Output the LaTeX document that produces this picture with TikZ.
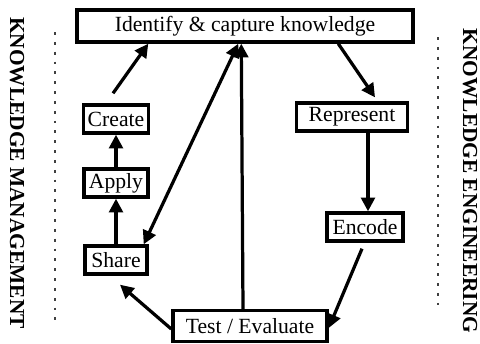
\documentclass[tikz,border=0pt]{standalone}
\usepackage{fontspec}
\setmainfont{Liberation Serif}
\usetikzlibrary{arrows.meta,calc}

\def\stageFont{\fontsize{15.4}{18}\selectfont}
\def\sideFont{\bfseries\fontsize{15.2}{18}\selectfont}
\colorlet{stage edge}{black}
\colorlet{divider line}{black!75}
\tikzset{
  stage/.style={draw=stage edge, line width=2.4pt, inner sep=0pt, minimum height=0.7cm, font=\stageFont},
  flow/.style={draw, line width=2.3pt, ->},
  twoway/.style={draw, line width=2.3pt, <->}
  }
\tikzstyle{divider} = [draw=divider line, line width=0.9pt, dash pattern=on 2pt off 5pt]
\tikzstyle{side}=[rotate=-90, inner sep=0pt, font=\sideFont]

\begin{document}
\begin{tikzpicture}[x=0.025cm, y=-0.025cm, >={Triangle[length=0.34cm,width=0.34cm]}]
  \useasboundingbox (0,0) rectangle (480,343);

  \node[stage, minimum width=8.4cm, minimum height=0.8cm] (identify) at (245,26) {Identify \& capture knowledge};

  \foreach \pos/\name/\word/\boxw in {{(116,119)/create/Create/1.62}, {(116,183)/apply/Apply/1.6}, {(116,260)/share/Share/1.55}} {
    \node[stage, minimum width=\boxw cm] (\name) at \pos {\word};
  }

  \node[stage, minimum width=2.78cm] (represent) at (352,117) {Represent};
  \node[stage, minimum width=1.9cm] (encode) at (365,227) {Encode};
  \node[stage, minimum width=3.85cm, minimum height=0.76cm] (test) at (250,326) {Test / Evaluate};

  % side titles and dividers
  \node[side] (km) at (17,173) {KNOWLEDGE MANAGEMENT};
  \node[side] (ke) at (470,181) {KNOWLEDGE ENGINEERING};
  \draw[divider] (55,32) -- (55,325);
  \draw[divider] (438,37) -- (438,305);

  % knowledge management side
  \draw[flow] ($(create.north)+(-3,-10)$) -- ($(identify.south west)+(73,0)$);
  \draw[flow] (apply.north) -- (create.south);
  \draw[flow] (share.north) -- (apply.south);
  \draw[twoway] ($(share.north east)+(-5,0)$) -- ($(identify.south west)+(163,0)$);
  \draw[flow] ($(test.north)+(-7,0)$) -- ($(identify.south west)+(166,0)$);
  \draw[flow] ($(test.west)+(0,3)$) -- ($(share.south)+(4,9)$);

  % knowledge engineering side
  \draw[flow] ($(identify.south west)+(263,0)$) -- ($(represent.north)+(23,-4)$);
  \draw[flow] ($(represent.south)+(16,0)$) -- ($(encode.north)+(3,0)$);
  \draw[flow] ($(encode.south)+(-3,6)$) -- ($(test.east)+(0,2)$);
\end{tikzpicture}
\end{document}
